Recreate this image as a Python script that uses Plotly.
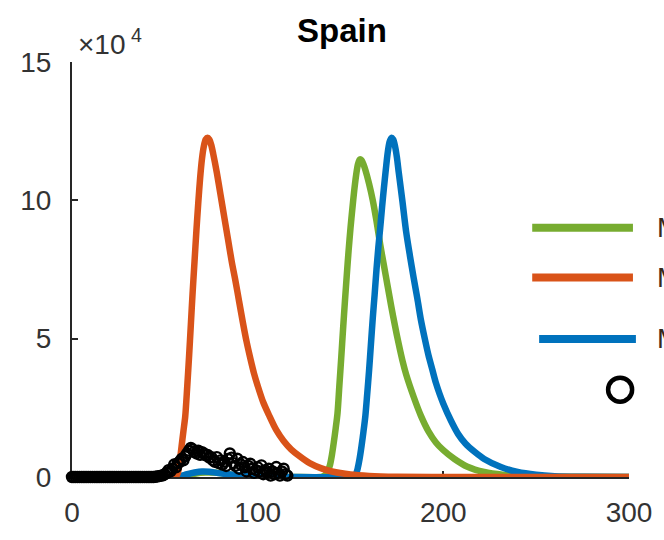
import plotly.graph_objects as go

# ---------------- data (values in units of 10^4) ----------------
green_x = [0, 55, 60, 66, 72, 78, 84, 90, 98, 108, 120, 134, 135, 136, 137, 138, 139, 140, 141, 142, 143,
           144, 145, 146, 147, 148, 149, 150, 151, 152, 153, 154, 155, 156, 157, 158, 160, 162, 164,
           166, 168, 170, 172, 174, 176, 178, 180, 184, 188, 192, 196, 200, 206, 213, 222, 232, 245,
           260, 300]
green_y = [0, 0, 0.04, 0.12, 0.16, 0.15, 0.1, 0.05, 0.02, 0.01, 0, 0, 0.02, 0.05, 0.12, 0.25, 0.45, 0.8,
           1.25, 1.75, 2.3, 3.3, 4.3, 5.35, 6.35, 7.3, 8.2, 9.0, 9.7, 10.35, 10.9, 11.3, 11.48, 11.45,
           11.3, 11.1, 10.6, 10.0, 9.25, 8.4, 7.65, 6.9, 6.15, 5.45, 4.8, 4.2, 3.7, 2.9, 2.2, 1.65,
           1.25, 0.97, 0.65, 0.37, 0.18, 0.08, 0.03, 0.01, 0]

blue_x = [0, 55, 58, 62, 66, 70, 74, 78, 84, 90, 96, 105, 115, 150, 151, 152, 153, 154, 155, 156, 157,
          158, 159, 160, 161, 162, 163, 164, 165, 166, 167, 168, 169, 170, 171, 172, 173, 174, 175,
          176, 178, 180, 182, 184, 186, 188, 190, 192, 194, 196, 198, 200, 204, 208, 212, 217, 222,
          231, 240, 250, 260, 275, 300]
blue_y = [0, 0, 0.03, 0.1, 0.16, 0.2, 0.19, 0.15, 0.1, 0.06, 0.03, 0.01, 0, 0, 0.02, 0.05, 0.12,
          0.35, 0.7, 1.15, 1.65, 2.2, 3.0, 3.85, 4.8, 5.75, 6.6, 7.5, 8.3, 9.0, 9.75, 10.45, 11.1,
          11.7, 12.1, 12.26, 12.2, 11.95, 11.55, 11.0, 9.95, 8.85, 8.0, 7.2, 6.45, 5.65, 5.0, 4.4,
          3.9, 3.4, 3.0, 2.65, 2.05, 1.55, 1.2, 0.9, 0.65, 0.36, 0.18, 0.08, 0.03, 0.01, 0]

orange_x = [0, 50, 56, 57, 58, 59, 60, 61, 62, 63, 64, 65, 66, 67, 68, 69, 70, 71, 72, 73, 74, 75, 76,
            78, 80, 82, 84, 86, 88, 90, 92, 94, 96, 98, 100, 103, 106, 110, 114, 118, 122, 128, 134,
            140, 150, 160, 175, 200, 300]
orange_y = [0, 0, 0.03, 0.15, 0.55, 1.1, 1.65, 2.2, 3.2, 4.3, 5.5, 6.7, 7.8, 8.9, 9.9, 10.8, 11.5,
            11.95, 12.2, 12.26, 12.2, 12.0, 11.7, 11.0, 10.2, 9.4, 8.6, 7.8, 7.1, 6.35, 5.6, 4.9, 4.3,
            3.75, 3.3, 2.7, 2.25, 1.7, 1.3, 1.0, 0.78, 0.5, 0.32, 0.2, 0.09, 0.04, 0.01, 0, 0]

data_day = list(range(0, 117))
data_val = [0] * 45 + [
    0.01, 0.02, 0.03, 0.05, 0.06, 0.1, 0.15, 0.25, 0.2, 0.3, 0.45, 0.35, 0.5, 0.55, 0.65, 0.6,
    0.75, 0.85, 0.95, 1.05, 1.0, 0.92, 0.85, 0.95, 0.8, 0.9, 0.85, 0.78, 0.8, 0.7, 0.72, 0.6,
    0.55, 0.72, 0.5, 0.6, 0.45, 0.55, 0.4, 0.65, 0.85, 0.7, 0.5, 0.4, 0.66, 0.3, 0.45, 0.54,
    0.35, 0.2, 0.4, 0.48, 0.3, 0.15, 0.25, 0.35, 0.2, 0.42, 0.1, 0.25, 0.15, 0.3, 0.05, 0.2,
    0.1, 0.36, 0.15, 0.05, 0.2, 0.3, 0.1, 0.05]

x_ticks = [0, 100, 200, 300]
y_ticks = [0, 5, 10, 15]
y_tick_text = ["0", "5", "10", "15"]
legend_labels = ["Model 1", "Model 2", "Model 3", "Data"]

# ---------------- style ----------------
GREEN = "#77AC30"
ORANGE = "#D95319"
BLUE = "#0072BD"
AX = "#262626"
FONT = "Liberation Sans, Arial, Helvetica, sans-serif"
W, H = 664, 540
L, R, T, B = 72, 28, 62, 60
PW, PH = W - L - R, H - T - B


def px_x(p):
    return (p - L) / PW


def px_y(p):
    return (H - B - p) / PH


LW = 6.5
fig = go.Figure()
for xs, ys, col in [(green_x, green_y, GREEN), (blue_x, blue_y, BLUE), (orange_x, orange_y, ORANGE)]:
    fig.add_trace(go.Scatter(x=xs, y=ys, mode="lines",
                             line=dict(color=col, width=LW, shape="spline", smoothing=0.8),
                             cliponaxis=False, showlegend=False))
fig.add_trace(go.Scatter(x=data_day, y=data_val, mode="markers",
                         marker=dict(symbol="circle-open", size=10, color="black",
                                     line=dict(width=2.4, color="black")),
                         cliponaxis=False, showlegend=False))

axis_common = dict(showgrid=False, zeroline=False, showline=True, linecolor=AX, linewidth=2,
                   ticks="inside", ticklen=6, tickwidth=2, tickcolor=AX,
                   tickfont=dict(family=FONT, size=28, color="#333333"), layer="below traces")

fig.update_layout(
    width=W, height=H, autosize=False,
    margin=dict(l=L, r=R, t=T, b=B, pad=0),
    paper_bgcolor="white", plot_bgcolor="white",
    showlegend=False,
    xaxis=dict(range=[0, 300], tickvals=x_ticks, ticklabelstandoff=9, **axis_common),
    yaxis=dict(range=[0, 15], tickvals=y_ticks, ticktext=y_tick_text, ticklabelstandoff=13,
               **axis_common),
)

# title and exponent label
fig.add_annotation(text="<b>Spain</b>", xref="paper", yref="paper", x=px_x(345), y=px_y(30),
                   xanchor="center", yanchor="middle", showarrow=False,
                   font=dict(family=FONT, size=33, color="black"))
fig.add_annotation(text="×10<sup> 4</sup>", xref="paper", yref="paper", x=px_x(76), y=px_y(42),
                   xanchor="left", yanchor="middle", showarrow=False,
                   font=dict(family=FONT, size=28, color="#333333"))

# manual legend (lines, circle, labels cut by the figure edge as in the reference)
leg = [(GREEN, 538, 640, 229), (ORANGE, 538, 640, 279), (BLUE, 545, 643, 341)]
for (col, xa, xb, yy), lab in zip(leg, legend_labels[:3]):
    fig.add_shape(type="line", xref="paper", yref="paper", x0=px_x(xa), x1=px_x(xb),
                  y0=px_y(yy), y1=px_y(yy), line=dict(color=col, width=8))
    fig.add_annotation(text=lab, xref="paper", yref="paper", x=px_x(659), y=px_y(yy),
                       xanchor="left", yanchor="middle", showarrow=False, xshift=3,
                       font=dict(family=FONT, size=28, color="#3a2a1a"))
fig.add_shape(type="circle", xref="paper", yref="paper", xsizemode="pixel", ysizemode="pixel",
              xanchor=px_x(627), yanchor=px_y(392), x0=-12, x1=12, y0=-12, y1=12,
              line=dict(color="black", width=4.5))
fig.add_annotation(text=legend_labels[3], xref="paper", yref="paper", x=px_x(668), y=px_y(392),
                   xanchor="left", yanchor="middle", showarrow=False,
                   font=dict(family=FONT, size=28, color=AX))

fig.write_html("out.html")
